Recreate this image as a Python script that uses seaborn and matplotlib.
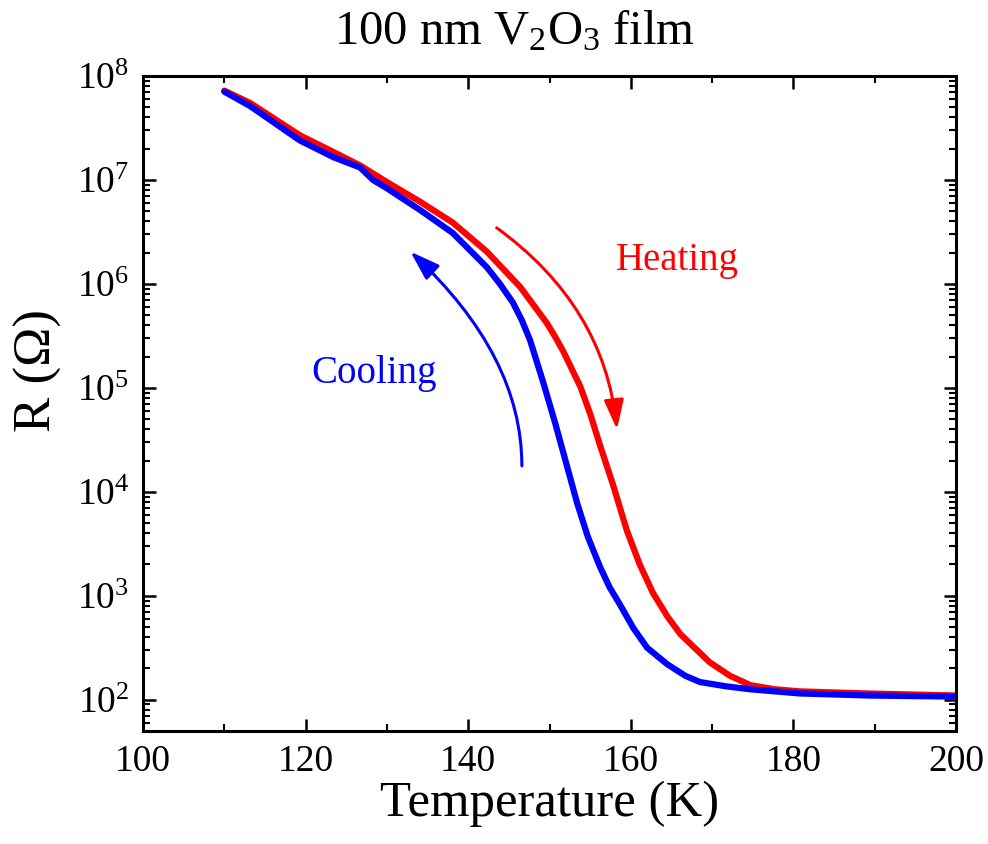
import numpy as np
import pandas as pd
import matplotlib
matplotlib.use('Agg')
import matplotlib.pyplot as plt
import matplotlib.ticker as mticker
import seaborn as sns

# ── data (log10 of R in ohm) ─────────────────────────────────────────────────
T_HEAT = [110.0, 113.2, 119.3, 123.4, 126.7, 130.0, 134.1, 138.1, 142.3, 146.4,
          149.7, 150.7, 151.7, 153.8, 155.0, 156.2, 157.8, 159.5, 161.1, 162.7,
          164.5, 166.1, 167.7, 169.7, 172.2, 174.7, 177.7, 180.8, 189.0, 200.0]
LOGR_HEAT = [7.86, 7.74, 7.43, 7.27, 7.14, 6.98, 6.79, 6.59, 6.31, 5.97,
             5.62, 5.49, 5.35, 5.01, 4.75, 4.45, 4.07, 3.63, 3.30, 3.03,
             2.80, 2.63, 2.51, 2.36, 2.23, 2.14, 2.10, 2.08, 2.06, 2.04]

T_COOL = [110.0, 113.2, 119.3, 123.4, 126.7, 128.3, 130.0, 134.1, 138.1, 142.3,
          143.9, 145.5, 146.6, 147.6, 149.2, 150.7, 152.0, 153.4, 154.7, 156.2,
          157.4, 158.7, 160.3, 162.0, 164.5, 166.7, 168.5, 171.6, 174.7, 180.8,
          189.4, 200.0]
LOGR_COOL = [7.85, 7.71, 7.38, 7.22, 7.12, 7.00, 6.92, 6.71, 6.49, 6.16,
             6.00, 5.82, 5.65, 5.46, 5.06, 4.66, 4.29, 3.89, 3.57, 3.28,
             3.08, 2.91, 2.69, 2.50, 2.34, 2.23, 2.17, 2.13, 2.10, 2.06,
             2.04, 2.03]

SWEEPS = ['Heating', 'Cooling']
COLORS = {'Heating': '#ff0000', 'Cooling': '#0000ff'}
XTICKS = [100, 120, 140, 160, 180, 200]

# annotation arrows: (tail T, tail R), (head T, head R)
ARROW_HEAT = [(143.5, 10**6.54), (158.3, 10**4.60)]
ARROW_COOL = [(146.6, 10**4.25), (132.9, 10**6.31)]
LABEL_POS = {'Heating': (165.7, 10**6.23), 'Cooling': (128.4, 10**5.14)}

# ── style ────────────────────────────────────────────────────────────────────
sns.set_style('ticks')
plt.rcParams['font.family'] = ['Liberation Serif', 'DejaVu Serif']
plt.rcParams['mathtext.fontset'] = 'custom'
plt.rcParams['mathtext.rm'] = 'Liberation Serif'
plt.rcParams['mathtext.it'] = 'Liberation Serif:italic'
plt.rcParams['mathtext.bf'] = 'Liberation Serif:bold'
plt.rcParams['text.color'] = 'black'
plt.rcParams['axes.labelcolor'] = 'black'

df = pd.concat([
    pd.DataFrame({'T': T_HEAT, 'logR': LOGR_HEAT, 'sweep': 'Heating'}),
    pd.DataFrame({'T': T_COOL, 'logR': LOGR_COOL, 'sweep': 'Cooling'}),
], ignore_index=True)
df['R'] = 10 ** df['logR']

fig = plt.figure(figsize=(9.88, 8.44), dpi=100)
ax = fig.add_axes([0.1447, 0.1339, 0.823, 0.776])

sns.lineplot(data=df, x='T', y='R', hue='sweep', hue_order=SWEEPS,
             palette=COLORS, sort=False, estimator=None, lw=4.5,
             solid_joinstyle='round', solid_capstyle='round',
             legend=False, ax=ax)

ax.set_yscale('log')
ax.set_xlim(100, 200)
ax.set_ylim(50, 1e8)
ax.set_xticks(XTICKS)
ax.xaxis.set_minor_locator(mticker.MultipleLocator(10))
ax.yaxis.set_major_locator(mticker.LogLocator(base=10, numticks=12))
ax.yaxis.set_minor_locator(mticker.LogLocator(base=10, subs=np.arange(2, 10), numticks=12))
ax.yaxis.set_minor_formatter(mticker.NullFormatter())

for side in ['top', 'right', 'bottom', 'left']:
    ax.spines[side].set_visible(True)
    ax.spines[side].set_linewidth(2.2)
    ax.spines[side].set_color('black')
ax.tick_params(which='both', direction='in', top=True, right=True, colors='black')
ax.tick_params(which='major', length=9, width=1.8, labelsize=27, pad=10)
ax.tick_params(which='minor', length=5, width=1.5)

ax.set_xlabel('Temperature (K)', fontsize=36.5, labelpad=1)
ax.set_ylabel('R (Ω)', fontsize=38, labelpad=8)
ax.yaxis.set_label_coords(-0.1, 0.55)
fig.text(0.521, 0.935, '100 nm V$_2$O$_3$ film', fontsize=35, ha='center', va='bottom')

# arrows and labels
ax.annotate('', xy=ARROW_HEAT[1], xytext=ARROW_HEAT[0],
            arrowprops=dict(arrowstyle='-|>,head_length=0.9,head_width=0.3',
                            color=COLORS['Heating'], lw=2.2, mutation_scale=20,
                            connectionstyle='angle3,angleA=-36,angleB=-84',
                            shrinkA=0, shrinkB=0))
ax.annotate('', xy=ARROW_COOL[1], xytext=ARROW_COOL[0],
            arrowprops=dict(arrowstyle='-|>,head_length=0.9,head_width=0.3',
                            color=COLORS['Cooling'], lw=2.2, mutation_scale=20,
                            connectionstyle='angle3,angleA=90,angleB=137',
                            shrinkA=0, shrinkB=0))
for name in SWEEPS:
    ax.text(*LABEL_POS[name], name, color=COLORS[name], fontsize=28,
            ha='center', va='center')

fig.savefig('out.png', dpi=100)
